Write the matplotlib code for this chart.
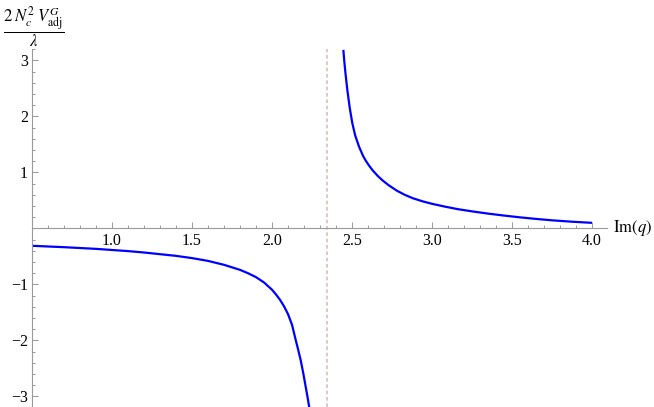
import matplotlib as mpl
mpl.use('Agg')
from matplotlib import pyplot as plt
from matplotlib.ticker import MultipleLocator, FixedLocator, FuncFormatter

# values
x_left = [0.50, 0.70, 0.90, 1.00, 1.10, 1.20, 1.30, 1.40, 1.50, 1.60, 1.70,
          1.80, 1.85, 1.90, 1.95, 2.00, 2.025, 2.05, 2.075, 2.10, 2.125,
          2.148, 2.163, 2.179, 2.195, 2.21, 2.222, 2.233]
y_left = [-0.31, -0.335, -0.365, -0.385, -0.405, -0.43, -0.46, -0.49, -0.53, -0.58, -0.65,
          -0.74, -0.80, -0.87, -0.965, -1.095, -1.18, -1.275, -1.39, -1.53, -1.72,
          -1.99, -2.16, -2.35, -2.58, -2.82, -3.01, -3.20]
x_right = [2.446, 2.452, 2.46, 2.471, 2.486, 2.502, 2.52, 2.544, 2.57, 2.585,
           2.60, 2.615, 2.63, 2.66, 2.69, 2.73, 2.78, 2.83, 2.88, 2.94,
           3.00, 3.08, 3.16, 3.25, 3.35, 3.45, 3.55, 3.65, 3.75, 3.875, 4.00]
y_right = [3.19, 2.98, 2.75, 2.47, 2.15, 1.88, 1.66, 1.46, 1.29, 1.215,
           1.15, 1.09, 1.035, 0.94, 0.86, 0.77, 0.675, 0.60, 0.54, 0.485,
           0.44, 0.39, 0.345, 0.305, 0.265, 0.23, 0.198, 0.17, 0.145, 0.12, 0.10]
pole_x = 2.345

x_ticks = [1.0, 1.5, 2.0, 2.5, 3.0, 3.5, 4.0]
y_ticks = [-3, -2, -1, 1, 2, 3]

mpl.rcParams.update({'font.family': 'serif',
                     'font.serif': ['Liberation Serif', 'DejaVu Serif'],
                     'mathtext.fontset': 'stix',
                     'font.size': 11})

AXIS_GRAY = '#9a9a9a'

fig = plt.figure(figsize=(6.54, 4.07), dpi=100, facecolor='w')
ax = fig.add_axes([32 / 654., 0.0, 575 / 654., 357.7 / 407.])
ax.set_xlim(0.5, 0.5 + 575 / 160.)
ax.set_ylim(-3.19, 3.2)

for xs, ys in ((x_left, y_left), (x_right, y_right)):
    ax.plot(xs, ys, color='#0000ff', lw=1.6, solid_capstyle='butt',
            solid_joinstyle='round', clip_on=False)
ax.axvline(pole_x, color='#dcbcbc', lw=1.2, ls=(0, (2.2, 1.6)))

# Mathematica style axes crossing at (0.5, 0)
for side in ('top', 'right'):
    ax.spines[side].set_visible(False)
ax.spines['bottom'].set_position(('data', 0))
ax.spines['left'].set_position(('data', 0.5))
for side in ('bottom', 'left'):
    ax.spines[side].set_color(AXIS_GRAY)
    ax.spines[side].set_linewidth(0.8)

ax.xaxis.set_major_locator(FixedLocator(x_ticks))
ax.xaxis.set_minor_locator(MultipleLocator(0.1))
ax.yaxis.set_major_locator(FixedLocator(y_ticks))
ax.yaxis.set_minor_locator(MultipleLocator(0.2))
ax.xaxis.set_major_formatter(FuncFormatter(lambda v, p: '%.1f' % v))
ax.yaxis.set_major_formatter(FuncFormatter(lambda v, p: ('\u2212%d' % -v) if v < 0 else '%d' % v))
ax.tick_params(which='both', direction='in', color=AXIS_GRAY, width=0.7, labelsize=11.5)
ax.tick_params(which='major', length=4.5, pad=3)
ax.tick_params(which='minor', length=2.5)

# axis labels
ax.annotate(r'$\mathrm{Im}(q)$', xy=(1, 0), xycoords=('axes fraction', 'data'),
            xytext=(4, 0), textcoords='offset points', ha='left', va='center', fontsize=12)
fig.text(3 / 654., 1 - 27 / 407., r'$\dfrac{2\;N_c^2\;V_{\mathrm{adj}}^G}{\lambda}$',
         ha='left', va='center', fontsize=12)

plt.savefig('out.png', dpi=100)
